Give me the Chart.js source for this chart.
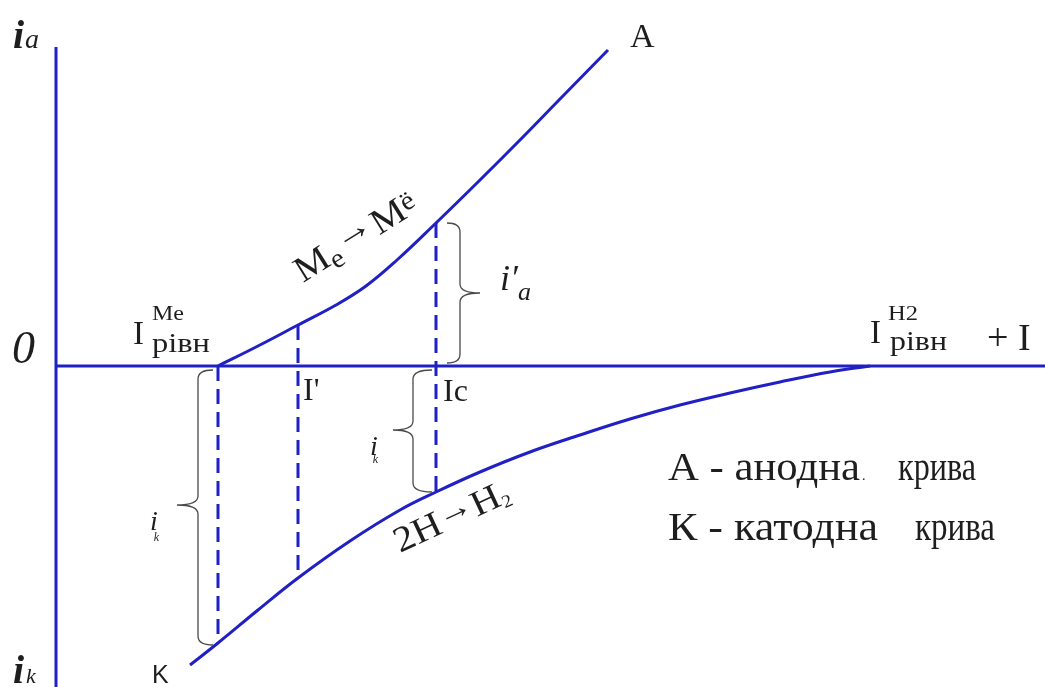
<!DOCTYPE html>
<html>
<head>
<meta charset="utf-8">
<script src="https://cdn.jsdelivr.net/npm/chart.js@4/dist/chart.umd.min.js"></script>
<style>
  html, body { margin: 0; padding: 0; background: #fff; }
  canvas { display: block; }
</style>
</head>
<body>
<canvas id="chart" width="1045" height="687"></canvas>
<script>
// potential on x, current on y (anodic current up, cathodic down)
const anodeX = [16.2, 20.2, 24.2, 28.0, 31.0, 34.1, 38.0, 42.4, 46.4, 50.4, 55.2];
const anodeY = [0, 2.0, 4.1, 6.1, 8.0, 10.6, 14.3, 18.6, 22.6, 26.7, 31.6];
const cathodeX = [13.4, 16.2, 20.2, 24.2, 29.4, 34.4, 38.0, 42.4, 47.4, 52.4, 57.4, 62.4, 67.4, 72.4, 77.4, 81.4];
const cathodeY = [-29.9, -27.7, -24.4, -21.2, -17.5, -14.4, -12.6, -10.6, -8.6, -6.9, -5.3, -3.9, -2.7, -1.6, -0.6, 0];
// verticals at I_рівн(Me), I' and Ic
const dropX = [16.2, 24.2, 38.0];
const dropTop = [0, 4.1, 14.3];
const dropBottom = [-27.7, -21.2, -12.6];
const axisYTop = 31.9, axisYBottom = -32.1, axisXRight = 98.9;

const BLUE = "#2020c4";
const INK = "#1e1e1e";
const SERIF = "'Liberation Serif', 'DejaVu Serif', serif";

const zip = (xs, ys) => xs.map((x, i) => ({ x, y: ys[i] }));

const datasets = [
  { data: [{ x: 0, y: axisYBottom }, { x: 0, y: axisYTop }] },
  { data: [{ x: 0, y: 0 }, { x: axisXRight, y: 0 }] },
  { data: zip(anodeX, anodeY), tension: 0.4 },
  { data: zip(cathodeX, cathodeY), tension: 0.4 }
];
dropX.forEach((x, i) => {
  datasets.push({
    data: [{ x, y: dropTop[i] }, { x, y: dropBottom[i] }],
    borderDash: [15, 8]
  });
});
datasets.forEach(d => {
  d.showLine = true;
  d.pointRadius = 0;
  d.borderWidth = 3;
  d.borderColor = BLUE;
  d.fill = false;
  d.clip = false;
});

// curly braces: hook x, spine x, tip x, top y, bottom y, tip y
const braces = [
  [15.7, 14.2, 12.1, -0.4, -27.9, -13.9],
  [39.1, 40.4, 42.4, 14.3, 0.3, 7.3],
  [37.6, 35.7, 33.7, -0.4, -12.6, -6.4]
];

function drawBrace(ctx, xs, ys, b) {
  const [hx, sx, tx, y1, y2, ym] = b;
  const H = xs.getPixelForValue(hx), S = xs.getPixelForValue(sx), T = xs.getPixelForValue(tx);
  const A = ys.getPixelForValue(y1), B = ys.getPixelForValue(y2), M = ys.getPixelForValue(ym);
  const r = 9 * Math.sign(B - A);
  ctx.beginPath();
  ctx.moveTo(H, A);
  ctx.quadraticCurveTo(S, A, S, A + r);
  ctx.lineTo(S, M - r);
  ctx.quadraticCurveTo(S, M, T, M);
  ctx.quadraticCurveTo(S, M, S, M + r);
  ctx.lineTo(S, B - r);
  ctx.quadraticCurveTo(S, B, H, B);
  ctx.stroke();
}

// runs of text drawn one after another: [text, font, baseline shift, gap before]
function runsWidth(ctx, runs) {
  return runs.reduce((w, [t, font, dy, dx]) => {
    ctx.font = font;
    return w + (dx || 0) + ctx.measureText(t).width;
  }, 0);
}

function drawRuns(ctx, runs) {
  let cx = 0;
  runs.forEach(([t, font, dy, dx]) => {
    ctx.font = font;
    cx += dx || 0;
    ctx.fillText(t, cx, dy || 0);
    cx += ctx.measureText(t).width;
  });
}

// label anchors in data units, angle in degrees, fit = width in px to stretch to
const labels = [
  { at: [-4.3, 31.8], runs: [["i", "bold italic 40px " + SERIF], ["a", "italic 28px " + SERIF, 0, 1]] },
  { at: [-4.3, -31.7], runs: [["i", "bold italic 40px " + SERIF], ["k", "italic 22px " + SERIF, 0, 2]] },
  { at: [-4.4, 0.3], runs: [["0", "italic 46px " + SERIF]] },
  { at: [7.7, 2.2], runs: [["I", "33px " + SERIF]] },
  { at: [9.6, 4.6], fit: 32, runs: [["Me", "20px " + SERIF]] },
  { at: [9.6, 1.4], fit: 58, runs: [["рівн", "28px " + SERIF]] },
  { at: [81.4, 2.3], runs: [["I", "33px " + SERIF]] },
  { at: [83.2, 4.6], fit: 30, runs: [["H2", "20px " + SERIF]] },
  { at: [83.4, 1.6], fit: 57, runs: [["рівн", "28px " + SERIF]] },
  { at: [93.1, 1.6], runs: [["+ I", "38px " + SERIF]] },
  { at: [57.4, 31.9], runs: [["A", "34px " + SERIF]] },
  { at: [9.6, -31.7], runs: [["K", "25px 'Liberation Sans', Arial, sans-serif"]] },
  { at: [24.7, -3.4], runs: [["I'", "32px " + SERIF]] },
  { at: [38.7, -3.5], runs: [["Ic", "32px " + SERIF]] },
  { at: [44.4, 7.6], runs: [["i′", "italic 36px " + SERIF], ["a", "italic 26px " + SERIF, 10, 0]] },
  { at: [31.4, -8.9], runs: [["i", "italic 28px " + SERIF], ["k", "italic 12px " + SERIF, 8, -5]] },
  { at: [9.4, -16.4], runs: [["i", "italic 28px " + SERIF], ["k", "italic 12px " + SERIF, 11, -4]] },
  { at: [24.7, 8.3], angle: -32, fit: 138, runs: [
    ["M", "36px " + SERIF], ["e", "27px " + SERIF, 6],
    ["→", "36px " + SERIF, -7, 1], ["M", "36px " + SERIF, 0, 1], ["ë", "27px " + SERIF, -6]
  ] },
  { at: [34.4, -18.7], angle: -25, fit: 124, runs: [
    ["2H", "36px " + SERIF], ["→", "32px " + SERIF, -6], ["H", "36px " + SERIF], ["2", "18px " + SERIF, 4]
  ] },
  { at: [61.2, -11.4], fit: 192, runs: [["А - анодна", "39px " + SERIF]] },
  { at: [80.6, -11.4], runs: [[".", "14px " + SERIF]] },
  { at: [84.2, -11.4], fit: 78, runs: [["крива", "39px " + SERIF]] },
  { at: [61.2, -17.4], fit: 210, runs: [["К - катодна", "39px " + SERIF]] },
  { at: [85.9, -17.4], fit: 80, runs: [["крива", "39px " + SERIF]] }
];

const annotations = {
  id: "annotations",
  afterDatasetsDraw(chart) {
    const { ctx, scales: { x: xs, y: ys } } = chart;
    ctx.save();
    ctx.strokeStyle = "#4a4a4a";
    ctx.lineWidth = 1.3;
    braces.forEach(b => drawBrace(ctx, xs, ys, b));
    ctx.fillStyle = INK;
    ctx.textBaseline = "alphabetic";
    labels.forEach(l => {
      ctx.save();
      ctx.translate(xs.getPixelForValue(l.at[0]), ys.getPixelForValue(l.at[1]));
      if (l.angle) ctx.rotate(l.angle * Math.PI / 180);
      if (l.fit) ctx.scale(l.fit / runsWidth(ctx, l.runs), 1);
      drawRuns(ctx, l.runs);
      ctx.restore();
    });
    ctx.restore();
  }
};

new Chart(document.getElementById("chart"), {
  type: "scatter",
  data: { datasets },
  options: {
    responsive: false,
    animation: false,
    layout: { padding: 0 },
    plugins: { legend: { display: false }, tooltip: { enabled: false } },
    scales: {
      x: { type: "linear", min: -5.6, max: 98.9, display: false },
      y: { type: "linear", min: -32.1, max: 36.6, display: false }
    }
  },
  plugins: [annotations]
});
</script>
</body>
</html>
